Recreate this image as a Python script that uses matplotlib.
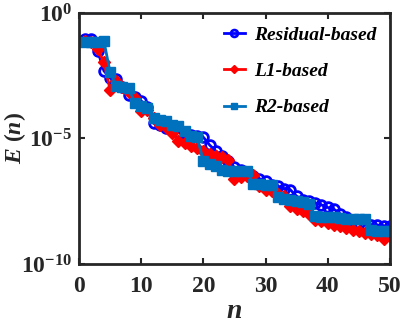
import matplotlib
matplotlib.use('Agg')
import matplotlib.pyplot as plt
import numpy as np
from matplotlib.ticker import FixedLocator, FixedFormatter

# iteration index
n = np.arange(1, 51)

# log10 of the error for each method
log_residual = [-1.05, -1.02, -1.5, -2.3, -2.6, -2.65, -2.95, -3.25, -3.35, -3.5,
                -3.75, -4.4, -4.45, -4.6, -4.65, -4.75, -4.8, -4.85, -4.9, -4.95,
                -5.26, -5.5, -5.7, -5.9, -6.15, -6.25, -6.35, -6.5, -6.6, -6.7,
                -6.85, -6.9, -7.0, -7.05, -7.3, -7.45, -7.5, -7.57, -7.65, -7.75,
                -7.82, -8.0, -8.15, -8.25, -8.35, -8.4, -8.45, -8.45, -8.48, -8.5]
log_l1 = [-1.1, -1.15, -1.45, -1.95, -3.05, -2.7, -2.95, -3.15, -3.4, -3.9,
          -3.85, -4.2, -4.45, -4.55, -4.8, -5.1, -5.2, -5.3, -5.4, -5.5,
          -5.6, -5.7, -5.75, -5.85, -6.6, -6.55, -6.5, -6.45, -6.9, -7.05,
          -7.1, -7.2, -7.3, -7.7, -7.8, -7.9, -8.0, -8.25, -8.3, -8.35,
          -8.45, -8.5, -8.55, -8.65, -8.7, -8.75, -8.8, -8.85, -9.0, -8.85]
log_r2 = [-1.15, -1.15, -1.15, -1.1, -2.35, -2.9, -2.95, -3.0, -3.6, -3.7,
          -3.8, -4.2, -4.25, -4.3, -4.45, -4.5, -4.7, -4.9, -4.95, -5.9,
          -6.0, -6.1, -6.25, -6.3, -6.3, -6.3, -6.3, -6.8, -6.8, -6.85,
          -6.85, -7.35, -7.4, -7.45, -7.5, -7.55, -7.6, -8.1, -8.12, -8.15,
          -8.15, -8.18, -8.2, -8.2, -8.22, -8.22, -8.65, -8.67, -8.7, -8.7]

ytick_vals = [1e-10, 1e-5, 1e0]
ytick_labels = [r'$10^{-10}$', r'$10^{-5}$', r'$10^{0}$']
xtick_vals = [0, 10, 20, 30, 40, 50]

plt.rcParams['font.family'] = 'Liberation Serif'
plt.rcParams['font.weight'] = 'bold'
plt.rcParams['mathtext.fontset'] = 'custom'
plt.rcParams['mathtext.rm'] = 'Liberation Serif:bold'
plt.rcParams['mathtext.bf'] = 'Liberation Serif:bold'
plt.rcParams['mathtext.it'] = 'Liberation Serif:bold:italic'

fig = plt.figure(figsize=(4.07, 3.25), dpi=100)
ax = fig.add_axes([0.194, 0.188, 0.764, 0.772])

ax.semilogy(n, 10 ** np.array(log_residual), '-o', color='#0000FF', lw=2,
            ms=7, mfc='none', mew=2, label='Residual-based')
ax.semilogy(n, 10 ** np.array(log_l1), '-D', color='#FF0000', lw=2,
            ms=6.5, label='L1-based')
ax.semilogy(n, 10 ** np.array(log_r2), '-s', color='#0072BD', lw=2,
            ms=7, label='R2-based')

ax.set_xlim(0, 50)
ax.set_ylim(1e-10, 1e0)
ax.xaxis.set_major_locator(FixedLocator(xtick_vals))
ax.yaxis.set_major_locator(FixedLocator(ytick_vals))
ax.yaxis.set_major_formatter(FixedFormatter(ytick_labels))
ax.yaxis.set_minor_locator(FixedLocator([]))
ax.tick_params(direction='in', top=True, right=True, length=4, width=1.5,
               labelsize=17, colors='#262626')
ax.tick_params(axis='x', pad=9)
ax.tick_params(axis='y', pad=5)
for s in ax.spines.values():
    s.set_linewidth(2)
    s.set_color('#262626')

ax.set_xlabel(r'$n$', fontsize=20, color='#262626')
ax.xaxis.set_label_coords(0.5, -0.14)
ax.set_ylabel(r'$E\ (n)$', fontsize=17, color='#262626')
ax.yaxis.set_label_coords(-0.165, 0.5)

leg = ax.legend(loc='upper right', frameon=False, handlelength=1.1,
                labelspacing=0.95, borderaxespad=0.3, handletextpad=0.45,
                prop={'family': 'Liberation Serif', 'weight': 'bold',
                      'style': 'italic', 'size': 14}, markerscale=0.7)

fig.savefig('out.png', dpi=100)
